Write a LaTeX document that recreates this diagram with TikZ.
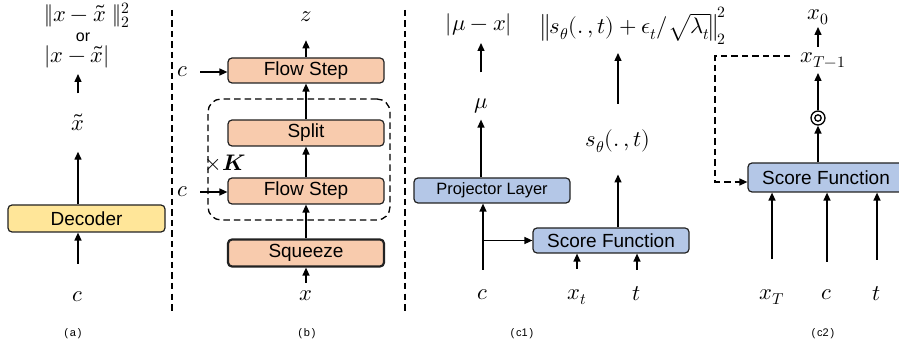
\documentclass[tikz,border=0pt]{standalone}
\usepackage{fontspec}
\usepackage{unicode-math}
\setmainfont{Liberation Sans}
\setmathfont{Latin Modern Math}
\usetikzlibrary{arrows.meta}
\definecolor{yel}{HTML}{FFE699}
\definecolor{peach}{HTML}{F8CBAD}
\definecolor{blu}{HTML}{B4C7E7}
\definecolor{edge}{HTML}{222222}
\newcommand\bxf{\fontsize{19}{22}\selectfont}
\newcommand\smbx{\fontsize{16.4}{19}\selectfont}
\newcommand\mthf{\fontsize{22.5}{25}\selectfont}
\newcommand\orf{\fontsize{16}{18}\selectfont}
\newcommand\capf{\fontsize{11}{13}\selectfont}
\begin{document}
\begin{tikzpicture}[x=1pt,y=-1pt,
  box/.style={draw=edge, line width=1.2pt, rounded corners=4pt, minimum height=26pt, minimum width=156pt, inner sep=0pt, font=\bxf},
  lab/.style={inner sep=0pt, font=\mthf},
  captxt/.style={inner sep=0pt, font=\capf},
  arr/.style={-{Triangle[length=8pt,width=7pt]}, line width=1.4pt},
  div/.style={line width=1.4pt, dash pattern=on 6.5pt off 4pt},
  darr/.style={-{Triangle[length=8pt,width=7pt]}, line width=1.4pt, dash pattern=on 6.5pt off 4pt},
  dbox/.style={draw, line width=1.3pt, dash pattern=on 6.5pt off 4pt, rounded corners=13pt, inner sep=0pt}]
\useasboundingbox (0,0) rectangle (899,347);

% (a)
\node[box, fill=yel, minimum width=157pt, minimum height=27pt] (dec) at (86.5,218.5) {Decoder};
\node[lab] (ca) at (78,297) {$c$};
\node[lab] (xa) at (78,122) {$\tilde{x}$};
\node[lab] (la1) at (87,15) {$\|x-\tilde{x}\;\|_2^2$};
\node[lab, font=\orf] (la2) at (83,37) {or};
\node[lab] (la3) at (77,57) {$|x-\tilde{x}|$};
\draw[arr, shorten <=28pt] (ca) -- (ca |- dec.south);
\draw[arr, shorten >=21pt] (xa |- dec.north) -- (xa);
\draw[arr, shorten <=20pt, shorten >=17pt] (xa) -- (xa |- la3);
\node[captxt] (capa) at (73,334) {(\,a\,)};

\draw[div] (172,10) -- (172,312);

% (b)
\node[dbox, minimum width=182pt, minimum height=121pt] (loop) at (299,159.5) {};
\node[box, fill=peach, minimum height=25pt] (fs2) at (306,70.5) {Flow Step};
\node[box, fill=peach] (split) at (306,133) {Split};
\node[box, fill=peach] (fs1) at (306,191) {Flow Step};
\node[box, fill=peach, minimum height=27pt, line width=2.2pt] (sq) at (306,253) {Squeeze};
\node[lab] (z) at (306,17) {$z$};
\node[lab] (xb) at (306,296) {$x$};
\node[lab] (cb2) at (183,72) {$c$};
\node[lab] (cb1) at (183,192) {$c$};
\node[lab] (K) at (225,163) {$\times\symbfit{K}$};
\draw[arr, shorten >=18pt] (fs2.north) -- (z);
\draw[arr] (split.north) -- (fs2.south);
\draw[arr] (fs1.north) -- (split.south);
\draw[arr] (sq.north) -- (fs1.south);
\draw[arr, shorten <=8pt] (xb) -- (sq.south);
\draw[arr, shorten <=12pt] (cb2) -- (fs2.west |- cb2);
\draw[arr, shorten <=12pt] (cb1) -- (fs1.west |- cb1);
\node[captxt] (capb) at (307,334) {(\,b\,)};

\draw[div] (405,10) -- (405,312);

% (c1)
\node[box, fill=blu, font=\smbx, minimum height=25pt] (proj) at (492,190.5) {Projector Layer};
\node[box, fill=blu, minimum height=25pt] (sc1) at (611,240.5) {Score Function};
\node[lab] (cc) at (483,295) {$c$};
\draw[arr, shorten <=20pt] (cc) -- (cc |- proj.south);
\draw[arr] (cc |- sc1.west) -- (sc1.west);
\node[lab] (mu) at (481,106) {$\mu$};
\draw[arr, shorten >=6pt] (proj.north -| mu) -- (mu);
\node[lab] (lmu) at (479,25) {$|\mu-x|$};
\draw[arr, shorten <=26pt, shorten >=18pt] (mu) -- (mu |- lmu);
\node[lab] (xt) at (577,297) {$x_t$};
\node[lab] (tt) at (637,294) {$t$};
\draw[arr, shorten <=20pt] (xt) -- (xt |- sc1.south);
\draw[arr, shorten <=17pt] (tt) -- (tt |- sc1.south);
\node[lab] (sth) at (618,141) {$s_\theta(.\,,t)$};
\draw[arr, shorten >=22pt] (sc1.north -| sth) -- (sth);
\node[lab] (loss) at (634,26) {$\left\|s_\theta(.\,,t)+\epsilon_t/\sqrt{\lambda_t}\right\|_2^2$};
\draw[arr, shorten <=26pt, shorten >=27pt] (sth) -- (sth |- loss);
\node[captxt] (capc1) at (522,334) {(\,c1\,)};

% (c2)
\node[box, fill=blu, minimum height=29pt] (sc2) at (826,177.5) {Score Function};
\node[lab] (x0) at (818,17) {$x_0$};
\node[lab] (xT1) at (823,60) {$x_{T-1}$};
\node[circle, draw, line width=1.3pt, minimum size=14pt, inner sep=0pt,
  path picture={\draw[line width=1.3pt] (path picture bounding box.center) circle (3.2pt);}] (circ) at (818,118) {};
\draw[arr] (sc2.north -| circ) -- (circ.south);
\draw[arr, shorten >=13pt] (circ.north) -- (circ |- xT1);
\coordinate (u0) at (818,47);
\coordinate (u1) at (818,27);
\draw[arr] (u0) -- (u1);
\coordinate (d0) at (790,56);
\coordinate (d1) at (715,56);
\coordinate (d2) at (715,182);
\draw[darr] (d0) -- (d1) -- (d2) -- (d2 -| sc2.west);
\node[lab] (xT) at (772,297) {$x_T$};
\node[lab] (c2c) at (827,295) {$c$};
\node[lab] (t2) at (877,294) {$t$};
\draw[arr, shorten <=30pt] (xT) -- (xT |- sc2.south);
\draw[arr, shorten <=28pt] (c2c) -- (c2c |- sc2.south);
\draw[arr, shorten <=27pt] (t2) -- (t2 |- sc2.south);
\node[captxt] (capc2) at (823,334) {(\,c2\,)};
\end{tikzpicture}
\end{document}
